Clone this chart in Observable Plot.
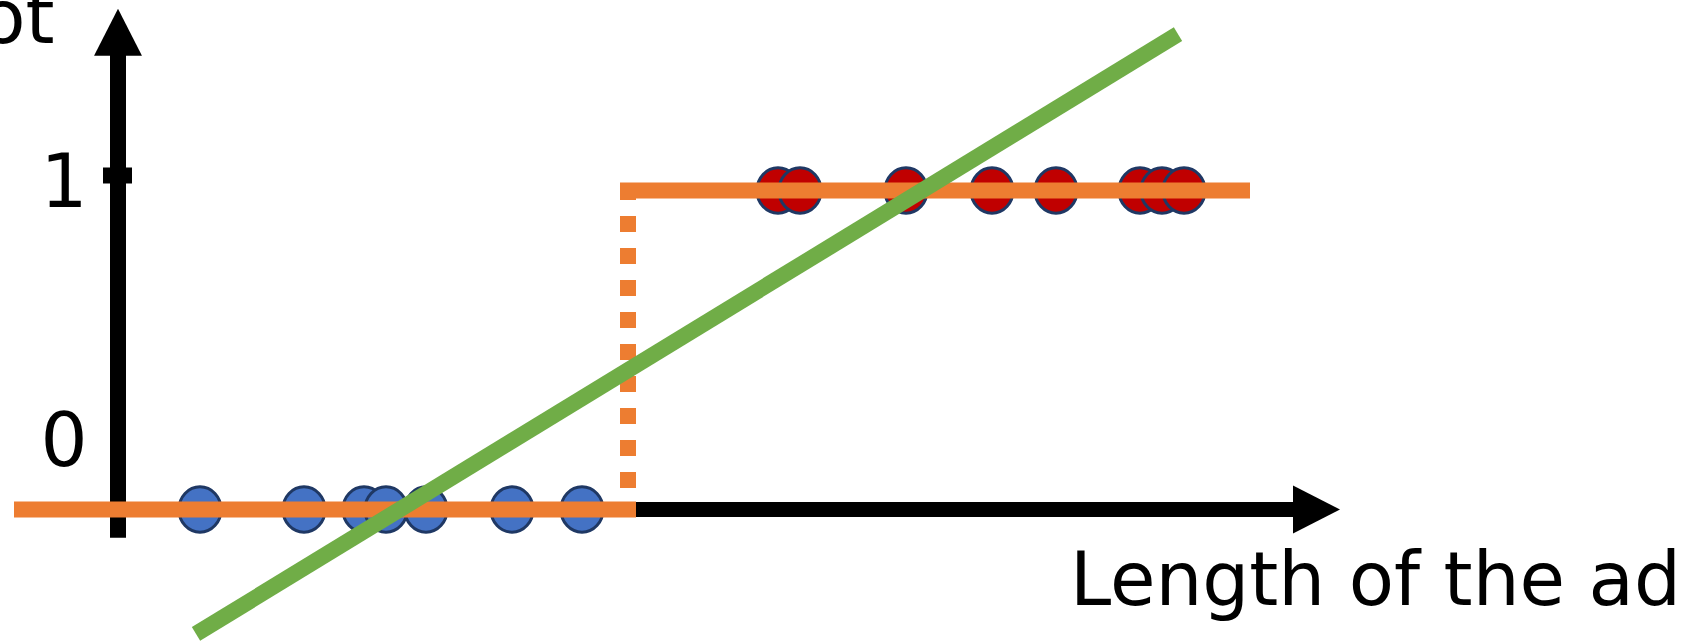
<!DOCTYPE html>
<html><head><meta charset="utf-8">
<script src="https://cdn.jsdelivr.net/npm/d3@7"></script>
<script src="https://cdn.jsdelivr.net/npm/@observablehq/plot@0.6"></script>
<style>html,body{margin:0;padding:0;background:#fff;overflow:hidden}</style>
</head><body><div id="chart"></div>
<script>
// ---- data (x: ad length units, y: class 0/1) ----
const xDomain = [-5.875, 79.425];
const yDomain = [-0.4138, 1.5956];
const blueX = [4.1, 9.3, 12.3, 13.4, 15.4, 19.7, 23.2];   // class 0
const redX  = [33.0, 34.1, 39.4, 43.7, 46.9, 51.1, 52.2, 53.3]; // class 1
const threshold = 25.5;
const stepStart = -4.8;
const stepEnd = 56.2;
const fitX = [3.9, 53.0];     // linear fit endpoints
const fitY = [-0.39, 1.49];
const yShaft = [-0.09, 1.49];
const yTip = 1.57;
const xShaft = [0, 59.8];
const xTip = 61.1;
const yTicks = [1];
const tickHalf = 0.725;
const tickLabels = ["0", "1"];
const xTitle = "Length of the ad";
const yTitle = "ot";

const blue = blueX.map(x => ({x, y: 0}));
const red = redX.map(x => ({x, y: 1}));

const ellipse = {draw(ctx, size) {
  const r = Math.sqrt(size / Math.PI), rx = r * 0.96, ry = r * 1.03, k = 0.5523;
  ctx.moveTo(rx, 0);
  ctx.bezierCurveTo(rx, ry * k, rx * k, ry, 0, ry);
  ctx.bezierCurveTo(-rx * k, ry, -rx, ry * k, -rx, 0);
  ctx.bezierCurveTo(-rx, -ry * k, -rx * k, -ry, 0, -ry);
  ctx.bezierCurveTo(rx * k, -ry, rx, -ry * k, rx, 0);
  ctx.closePath();
}};
const head = {draw(ctx, size) {
  const h = Math.sqrt(size);
  ctx.moveTo(0, 0); ctx.lineTo(h * 0.51, h); ctx.lineTo(-h * 0.51, h); ctx.closePath();
}};

const font = "DejaVu Sans";
const chart = Plot.plot({
  width: 1706, height: 641,
  marginLeft: 0, marginRight: 0, marginTop: 0, marginBottom: 0,
  x: {domain: xDomain, axis: null},
  y: {domain: yDomain, axis: null},
  style: {background: "white", fontFamily: font},
  marks: [
    // axes
    Plot.ruleX([0], {y1: yShaft[0], y2: yShaft[1], stroke: "black", strokeWidth: 16}),
    Plot.ruleY([0], {x1: xShaft[0], x2: xShaft[1], stroke: "black", strokeWidth: 15}),
    Plot.dot([{x: 0, y: yTip}], {x: "x", y: "y", symbol: head, r: 26.5, fill: "black", stroke: "none"}),
    Plot.dot([{x: xTip, y: 0}], {x: "x", y: "y", symbol: head, r: 26.5, fill: "black", stroke: "none", rotate: 90}),
    Plot.ruleY(yTicks, {y: d => d, x1: -tickHalf, x2: tickHalf, dy: -15, stroke: "black", strokeWidth: 16}),
    Plot.text([tickLabels[1]], {x: -2.7, y: 1, text: d => d, dy: 17, fontSize: 74, lineAnchor: "bottom", fill: "black"}),
    Plot.text([tickLabels[0]], {x: -2.7, y: 0, text: d => d, dy: -43, fontSize: 74, lineAnchor: "bottom", fill: "black"}),
    Plot.text([yTitle], {x: -3.175, y: yTip, text: d => d, dy: 34, fontSize: 74, lineAnchor: "bottom", textAnchor: "end", fill: "black"}),
    Plot.text([xTitle], {x: 47.6, y: 0, text: d => d, dy: 96, fontSize: 74, lineAnchor: "bottom", textAnchor: "start", fill: "black"}),
    // points
    Plot.dot(blue, {x: "x", y: "y", symbol: ellipse, r: 22, fill: "#4472C4", stroke: "#1F3864", strokeWidth: 3}),
    Plot.dot(red, {x: "x", y: "y", symbol: ellipse, r: 22, fill: "#C00000", stroke: "#1F3864", strokeWidth: 3}),
    // step classifier
    Plot.line([{x: stepStart, y: 0}, {x: threshold, y: 0}], {x: "x", y: "y", stroke: "#ED7D31", strokeWidth: 16, strokeLinecap: "square"}),
    Plot.line([{x: threshold, y: 1}, {x: stepEnd, y: 1}], {x: "x", y: "y", stroke: "#ED7D31", strokeWidth: 16, strokeLinecap: "square"}),
    Plot.ruleX([threshold], {x: d => d, y1: 1, y2: 0, stroke: "#ED7D31", strokeWidth: 16, strokeDasharray: "16,16", strokeDashoffset: 6}),
    // linear fit
    Plot.line(fitX.map((x, i) => ({x, y: fitY[i]})), {x: "x", y: "y", stroke: "#70AD47", strokeWidth: 16, strokeLinecap: "butt"})
  ]
});
document.getElementById("chart").appendChild(chart);
</script>
</body></html>
